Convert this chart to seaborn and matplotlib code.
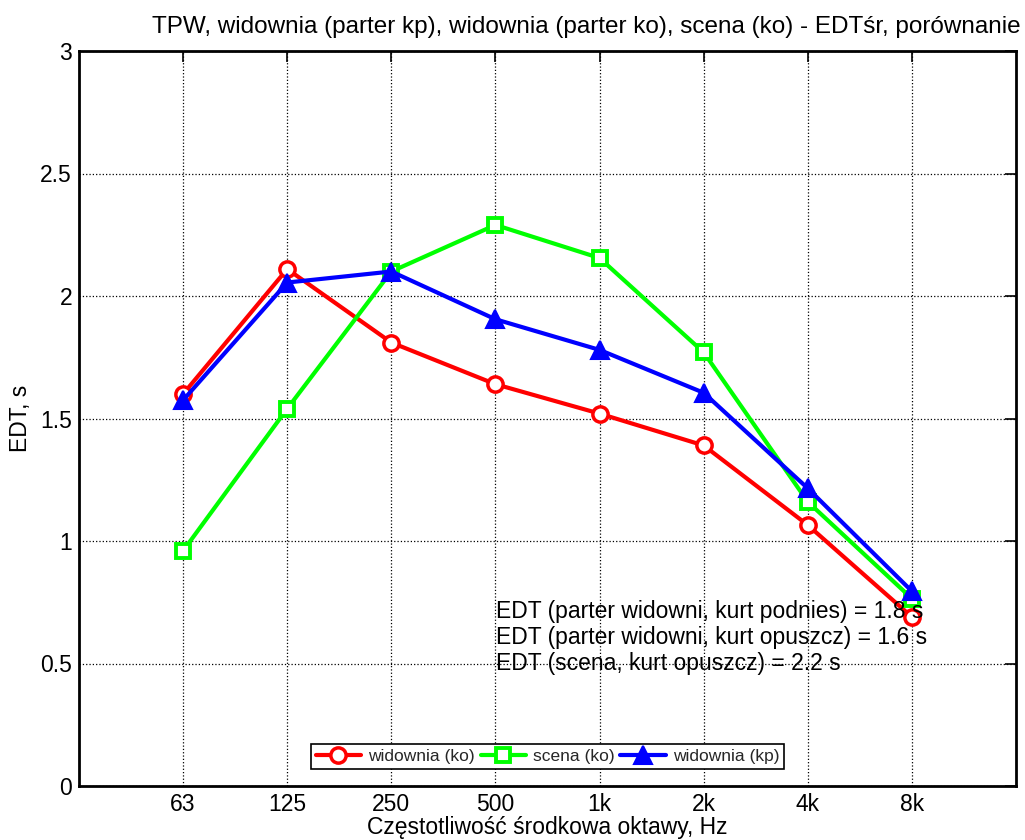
import matplotlib
matplotlib.use("Agg")
import matplotlib.pyplot as plt
import seaborn as sns
import numpy as np
import pandas as pd

bands = ["63", "125", "250", "500", "1k", "2k", "4k", "8k"]
widownia_ko = [1.60, 2.11, 1.81, 1.64, 1.52, 1.39, 1.065, 0.69]
scena_ko = [0.96, 1.54, 2.10, 2.29, 2.155, 1.77, 1.16, 0.765]
widownia_kp = [1.575, 2.055, 2.10, 1.905, 1.78, 1.605, 1.215, 0.795]
yticks = [0, 0.5, 1, 1.5, 2, 2.5, 3]
ytick_labels = ["0", "0.5", "1", "1.5", "2", "2.5", "3"]
title = "TPW, widownia (parter kp), widownia (parter ko), scena (ko) - EDTśr, porównanie"
xlabel = "Częstotliwość środkowa oktawy, Hz"
ylabel = "EDT, s"
notes = ["EDT (parter widowni, kurt podnies) = 1.8 s",
         "EDT (parter widowni, kurt opuszcz) = 1.6 s",
         "EDT (scena, kurt opuszcz) = 2.2 s"]

sns.set_theme(style="white")
plt.rcParams['font.family'] = ['Liberation Sans', 'DejaVu Sans']

fig = plt.figure(figsize=(10.25, 8.4), dpi=100)
ax = fig.add_axes([79/1025, 1-786/840, (1016-79)/1025, (786-51)/840])

pos = np.arange(1, len(bands) + 1)
series = [
    ("widownia (ko)", widownia_ko, "#ff0000", "o", dict(markersize=11, markerfacecolor="white", markeredgewidth=2.5)),
    ("scena (ko)", scena_ko, "#00ff00", "s", dict(markersize=10, markerfacecolor="white", markeredgewidth=2.8)),
    ("widownia (kp)", widownia_kp, "#0000ff", "^", dict(markersize=13, markerfacecolor="#0000ff", markeredgewidth=1.5)),
]
for name, vals, col, mk, kw in series:
    df = pd.DataFrame({"pos": pos, "val": vals})
    sns.lineplot(data=df, x="pos", y="val", ax=ax, color=col, linewidth=3,
                 marker=mk, markeredgecolor=col, label=name, **kw)

ax.set_xlim(0, 9)
ax.set_ylim(0, 3)
ax.set_xticks(pos)
ax.set_xticklabels(bands)
ax.set_yticks(yticks)
ax.set_yticklabels(ytick_labels)
ax.tick_params(direction="in", length=8, width=1.2, labelsize=16.5, colors="black",
               top=True, right=True, pad=5)
for s in ax.spines.values():
    s.set_color("black")
    s.set_linewidth(2)
ax.grid(True, color="black", linestyle=":", linewidth=0.9)
ax.set_axisbelow(True)
ax.set_xlabel(xlabel, fontsize=16.5, color="black", labelpad=0)
ax.set_ylabel(ylabel, fontsize=16.5, color="black", labelpad=6)

fig.text(1021/1025, 1-27/840, title, ha="right", va="center", fontsize=17.5, color="black")

for i, t in enumerate(notes):
    ax.text(4.01, 0.714 - i * 0.106, t, fontsize=16.5, color="black", va="center", ha="left")

leg = ax.legend(loc="center", bbox_to_anchor=(0.5, 0.04), ncol=3, fontsize=12.5,
                frameon=True, fancybox=False, edgecolor="black", framealpha=1,
                handlelength=2.6, columnspacing=0.35, handletextpad=0.4,
                borderpad=0.3, borderaxespad=0)
leg.get_frame().set_linewidth(1.2)

fig.savefig("out.png", dpi=100, facecolor="white")
